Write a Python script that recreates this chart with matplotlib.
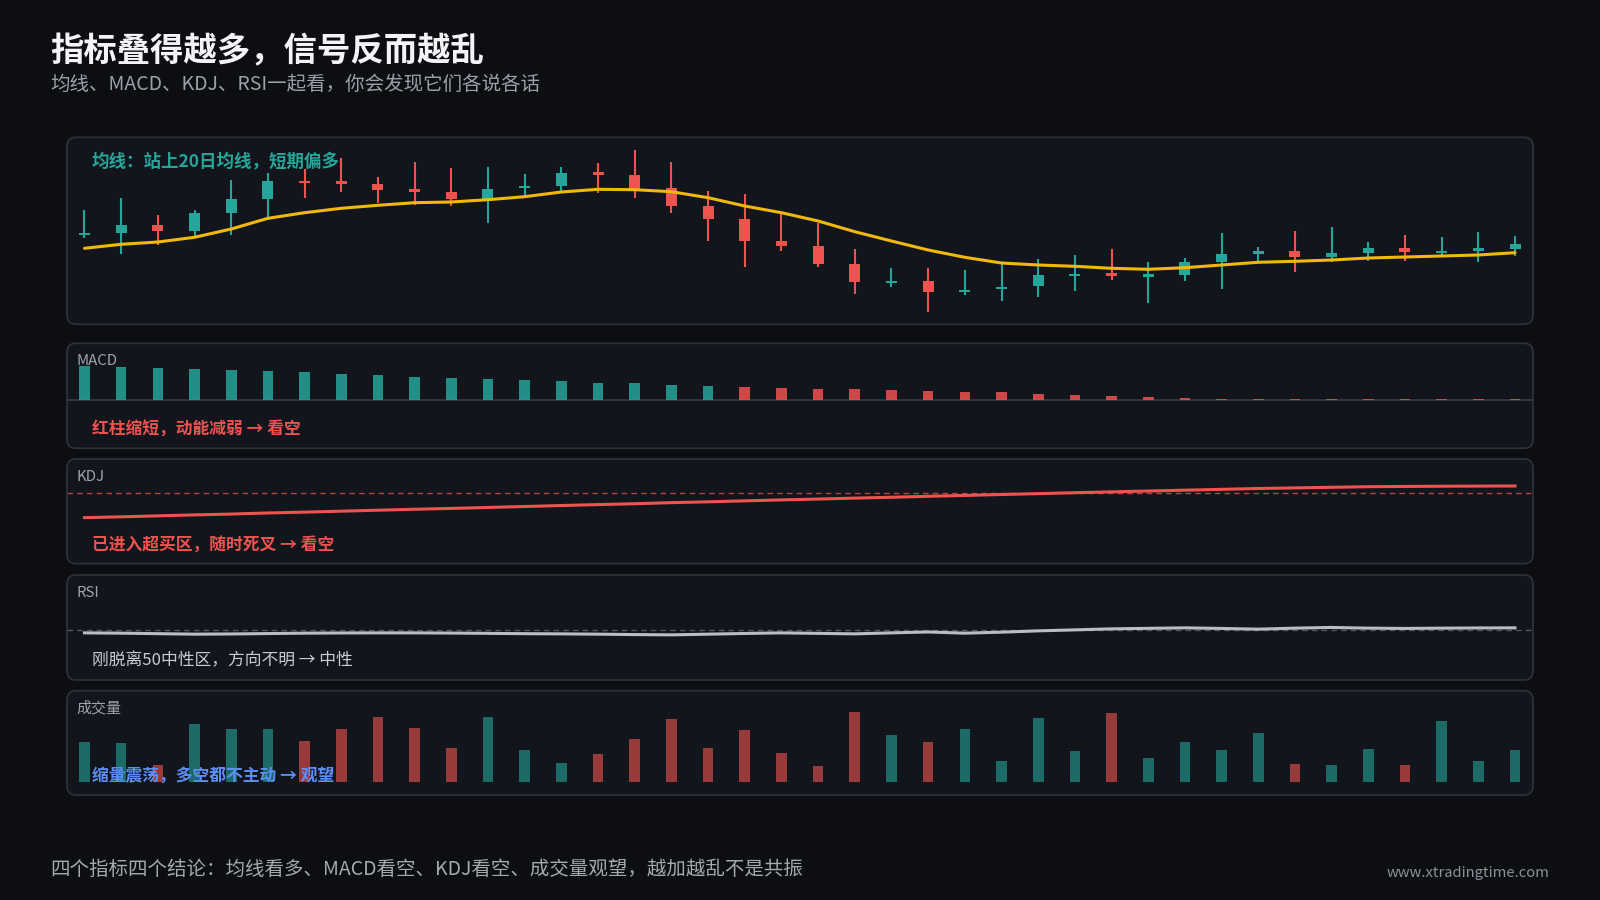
import numpy as np
import matplotlib
matplotlib.use("Agg")
import matplotlib.pyplot as plt
from matplotlib.patches import FancyBboxPatch

plt.rcParams['font.family'] = ['Noto Sans CJK SC', 'DejaVu Sans']

# ---------------- data ----------------
days = list(range(40))

open_ = [26.60, 26.73, 27.53, 26.87, 28.67, 30.07, 31.82, 31.75, 31.60, 30.95,
         30.80, 30.07, 31.28, 31.40, 32.69, 32.50, 31.17, 29.40, 28.07, 25.90,
         25.37, 23.63, 21.78, 21.87, 20.88, 21.18, 21.37, 22.48, 22.55, 22.41,
         22.50, 23.83, 24.75, 24.87, 24.33, 24.73, 25.17, 24.78, 25.01, 25.10]
close = [26.64, 27.53, 26.87, 28.67, 30.07, 31.90, 31.78, 31.71, 31.00, 30.91,
         30.13, 31.13, 31.32, 32.73, 32.65, 31.07, 29.40, 28.07, 25.93, 25.37,
         23.63, 21.80, 21.82, 20.77, 20.92, 21.22, 22.50, 22.52, 22.51, 22.45,
         23.83, 24.60, 24.79, 24.33, 24.67, 25.17, 24.80, 24.82, 25.05, 25.60]
high = [29.00, 30.17, 28.50, 29.00, 32.00, 32.67, 33.10, 34.17, 32.33, 33.77,
        33.17, 33.33, 32.57, 33.27, 33.73, 35.00, 33.77, 30.90, 30.60, 28.57,
        27.67, 25.07, 23.23, 23.17, 22.97, 23.57, 24.10, 24.53, 25.07, 23.77,
        24.17, 26.73, 25.33, 26.90, 27.27, 25.80, 26.50, 26.33, 26.80, 26.40]
low = [26.17, 24.60, 25.50, 26.17, 26.47, 28.00, 30.20, 30.77, 29.73, 29.50,
       29.40, 27.67, 30.40, 30.73, 30.73, 30.23, 28.73, 25.93, 23.33, 24.90,
       23.33, 20.60, 21.33, 18.83, 20.50, 19.93, 20.33, 20.93, 22.00, 19.67,
       21.93, 21.13, 23.83, 22.77, 23.77, 23.90, 23.90, 24.27, 23.83, 24.43]
ma20 = [25.17, 25.57, 25.80, 26.27, 27.10, 28.17, 28.73, 29.17, 29.47, 29.73,
        29.80, 30.03, 30.33, 30.80, 31.07, 31.03, 30.83, 30.23, 29.40, 28.73,
        27.90, 26.83, 25.90, 25.00, 24.27, 23.70, 23.50, 23.37, 23.17, 23.07,
        23.23, 23.50, 23.77, 23.87, 24.00, 24.20, 24.30, 24.40, 24.50, 24.73]

macd_hist = [0.343, 0.336, 0.320, 0.310, 0.300, 0.293, 0.280, 0.267, 0.253, 0.237,
             0.223, 0.213, 0.203, 0.193, 0.177, 0.170, 0.157, 0.147, 0.130, 0.127,
             0.117, 0.113, 0.103, 0.097, 0.087, 0.083, 0.067, 0.053, 0.043, 0.033,
             0.027, 0.015, 0.015, 0.015, 0.015, 0.015, 0.015, 0.015, 0.015, 0.015]
macd_state = ['g'] * 18 + ['r'] * 22

kdj_k = [59.7, 60.4, 61.2, 62.0, 62.7, 63.6, 64.3, 65.1, 65.9, 66.7,
         67.4, 68.2, 69.0, 69.8, 70.6, 71.3, 72.2, 72.9, 73.7, 74.5,
         75.2, 76.0, 76.7, 77.5, 78.2, 79.0, 79.7, 80.5, 81.2, 81.9,
         82.6, 83.3, 84.0, 84.5, 85.0, 85.5, 85.7, 85.9, 86.0, 86.1]
kdj_overbought = 80

rsi = [47.6, 47.3, 46.8, 46.3, 46.5, 46.9, 47.3, 47.5, 47.6, 47.6,
       47.4, 47.1, 46.8, 46.6, 46.3, 45.9, 45.6, 46.3, 47.0, 47.6,
       47.1, 46.6, 47.6, 48.5, 47.3, 48.3, 49.6, 50.6, 51.6, 52.1,
       52.6, 52.0, 51.3, 52.3, 53.0, 52.3, 52.0, 52.3, 52.5, 52.6]
rsi_mid = 50

volume = [403, 393, 170, 583, 530, 530, 413, 530, 650, 540,
          343, 656, 323, 193, 286, 430, 636, 343, 523, 293,
          160, 703, 470, 406, 530, 216, 646, 316, 693, 240,
          406, 320, 496, 180, 173, 330, 176, 610, 210, 320]

title = "指标叠得越多，信号反而越乱"
subtitle = "均线、MACD、KDJ、RSI一起看，你会发现它们各说各话"
footer = "四个指标四个结论：均线看多、MACD看空、KDJ看空、成交量观望，越加越乱不是共振"
website = "www.xtradingtime.com"
panel_names = ["MACD", "KDJ", "RSI", "成交量"]
insights = ["均线：站上20日均线，短期偏多",
            "红柱缩短，动能减弱 → 看空",
            "已进入超买区，随时死叉 → 看空",
            "刚脱离50中性区，方向不明 → 中性",
            "缩量震荡，多空都不主动 → 观望"]

# ---------------- style ----------------
BG = "#0d0e12"
PANEL = "#12151b"
BORDER = "#2c3039"
UP = "#26a69a"
DOWN = "#ef5350"
MA_C = "#f0b90b"
LABEL_C = "#a0a5ad"

W, H = 1600, 900
fig = plt.figure(figsize=(16, 9), dpi=100, facecolor=BG)


def px_axes(x0, y0, x1, y1, z=1):
    ax = fig.add_axes([x0 / W, 1 - y1 / H, (x1 - x0) / W, (y1 - y0) / H], zorder=z)
    ax.patch.set_alpha(0)
    ax.axis('off')
    return ax


bg = px_axes(0, 0, W, H, z=0)
bg.set_xlim(0, W)
bg.set_ylim(H, 0)

PX0, PX1 = 67, 1533
panels = [(PX0, 137.3, PX1, 324.3), (PX0, 343.3, PX1, 448.3), (PX0, 459, PX1, 563.7),
          (PX0, 575, PX1, 680), (PX0, 690.7, PX1, 795)]
for (x0, y0, x1, y1) in panels:
    bg.add_patch(FancyBboxPatch((x0, y0), x1 - x0, y1 - y0,
                                boxstyle="round,pad=0,rounding_size=9",
                                fc=PANEL, ec=BORDER, lw=1.3))

XL, XR = -0.477, 39.49
x = np.array(days)

# --- candles ---
ax1 = px_axes(*panels[0])
ax1.set_xlim(XL, XR)
ax1.set_ylim(17.57, 36.27)
o = np.array(open_); c = np.array(close)
cols = [UP if cc >= oo else DOWN for oo, cc in zip(o, c)]
ax1.vlines(x, low, high, colors=cols, lw=1.5, zorder=2)
body_b = np.minimum(o, c)
body_h = np.maximum(np.abs(c - o), 0.25)
ax1.bar(x, body_h, bottom=body_b - np.where(np.abs(c - o) < 0.25, 0.1, 0), width=0.3,
        color=cols, zorder=3, lw=0)
ax1.plot(x, ma20, color=MA_C, lw=2.2, zorder=4, solid_capstyle='round')

# --- MACD ---
ax2 = px_axes(*panels[1])
ax2.set_xlim(XL, XR)
ax2.set_ylim(-0.48, 0.57)
ax2.axhline(0, color="#363b45", lw=1.2, zorder=1)
mcols = [UP if s == 'g' else DOWN for s in macd_state]
ax2.bar(x, macd_hist, width=0.29, color=mcols, alpha=0.85, lw=0, zorder=2)

# --- KDJ ---
ax3 = px_axes(*panels[2])
ax3.set_xlim(XL, XR)
ax3.set_ylim(21.33, 108.58)
ax3.axhline(kdj_overbought, xmin=0, xmax=1, color=DOWN, alpha=0.75, lw=1.0,
            dashes=(4, 3), zorder=1)
ax3.plot(x, kdj_k, color=DOWN, lw=2.2, zorder=2)

# --- RSI ---
ax4 = px_axes(*panels[3])
ax4.set_xlim(XL, XR)
ax4.set_ylim(0.6, 105.3)
ax4.axhline(rsi_mid, color="#50555e", lw=1.0, dashes=(4, 3), zorder=1)
ax4.plot(x, rsi, color="#b9bdc5", lw=2.2, zorder=2)

# --- Volume ---
ax5 = px_axes(*panels[4])
ax5.set_xlim(XL, XR)
ax5.set_ylim(-127, 916)
ax5.bar(x, volume, width=0.29, color=cols, alpha=0.6, lw=0, zorder=2)

# ---------------- text overlay ----------------
ov = px_axes(0, 0, W, H, z=10)
ov.set_xlim(0, W)
ov.set_ylim(H, 0)

ov.text(50, 51.5, title, color="#f3f4f6", fontsize=24, fontweight='bold', ha='left', va='center')
ov.text(50, 84.5, subtitle, color="#9ba1aa", fontsize=14.0, ha='left', va='center')
ov.text(50, 869, footer, color="#a5a9b0", fontsize=14.0, ha='left', va='center')
ov.text(1549, 873, website, color="#8b9099", fontsize=10.6, ha='right', va='center')

label_pos = [361, 477, 593, 708]
for name, yy in zip(panel_names, label_pos):
    ov.text(76, yy, name, color=LABEL_C, fontsize=10.8, ha='left', va='center')

ins_y = [161.5, 429.5, 546, 661, 776]
ins_c = [UP, DOWN, DOWN, "#c9ccd2", "#5b8ff9"]
ins_w = ['bold', 'bold', 'bold', 'normal', 'bold']
ins_s = [12.6, 12.1, 12.1, 12.1, 12.1]
for t, yy, cc, ww, ss in zip(insights, ins_y, ins_c, ins_w, ins_s):
    ov.text(92, yy, t, color=cc, fontsize=ss, fontweight=ww, ha='left', va='center')

fig.savefig("out.png", dpi=100, facecolor=BG)
